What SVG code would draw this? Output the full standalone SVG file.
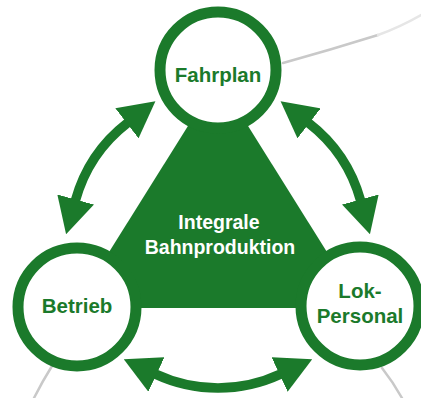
<svg xmlns="http://www.w3.org/2000/svg" width="421" height="398" viewBox="0 0 421 398">
  <style>
    .orbit { fill: none; stroke: #c9c9c9; stroke-width: 2.5; stroke-linecap: round; }
    .orbit-faint { fill: none; stroke: #e6e6e6; stroke-width: 2.5; stroke-linecap: round; }
    .link { fill: none; stroke: #1b7a2b; stroke-width: 9.5; marker-start: url(#head); marker-end: url(#head); }
    .ring { fill: #ffffff; stroke: #1b7a2b; stroke-width: 11; }
    .label { font-family: "Liberation Sans", Arial, sans-serif; font-weight: bold; font-size: 20.5px; fill: #1b7a2b; text-anchor: middle; }
    .core-label { font-family: "Liberation Sans", Arial, sans-serif; font-weight: bold; font-size: 19.5px; fill: #ffffff; text-anchor: middle; }
  </style>
  <defs>
    <marker id="head" markerUnits="userSpaceOnUse" viewBox="0 0 36 38" markerWidth="36" markerHeight="38" refX="1" refY="19" orient="auto-start-reverse">
      <path d="M0,0 L36,19 L0,38 Z" fill="#1b7a2b"/>
    </marker>
  </defs>

  <rect width="421" height="398" fill="#ffffff"/>

  <!-- background orbit traces -->
  <g id="orbit">
    <path class="orbit" d="M283 63 Q330 50 378 35"/>
    <path class="orbit-faint" d="M378 35 Q400 27 421 15"/>
    <path class="orbit" d="M52 366 Q42 382 34 398"/>
    <path class="orbit" d="M382 368 Q393 382 402 398"/>
  </g>

  <!-- central triangle -->
  <g id="core">
    <polygon points="218,78 74,308 362,308" fill="#1b7a2b"/>
    <text class="core-label" x="219" y="229">Integrale</text>
    <text class="core-label" x="220" y="254">Bahnproduktion</text>
  </g>

  <!-- double-headed connectors along a circle around the core -->
  <g id="connectors">
    <path class="link" d="M75.4 200.5 A148 148 0 0 1 127.7 122.7"/>
    <path class="link" d="M308.3 122.7 A148 148 0 0 1 360.6 200.5"/>
    <path class="link" d="M280.5 374.1 A148 148 0 0 1 155.5 374.1"/>
  </g>

  <g id="fahrplan">
    <circle class="ring" cx="218" cy="70" r="58"/>
    <text class="label" x="218" y="82">Fahrplan</text>
  </g>

  <g id="betrieb">
    <circle class="ring" cx="77" cy="307" r="59"/>
    <text class="label" x="77" y="313">Betrieb</text>
  </g>

  <g id="lok-personal">
    <circle class="ring" cx="360" cy="306" r="59"/>
    <text class="label" x="360" y="298">Lok-</text>
    <text class="label" x="360" y="323">Personal</text>
  </g>
</svg>
